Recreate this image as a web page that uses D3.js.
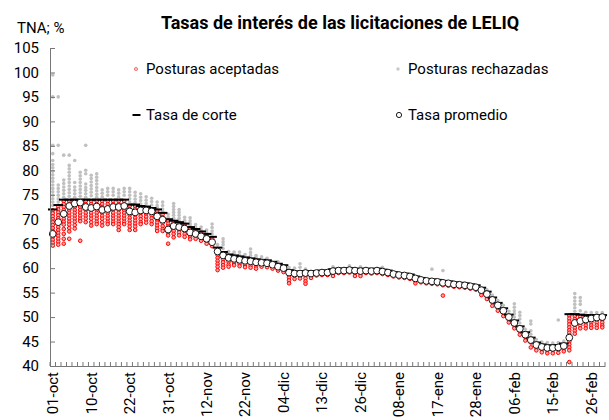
<!DOCTYPE html>
<html>
<head>
<meta charset="utf-8">
<script src="https://cdn.jsdelivr.net/npm/d3@7"></script>
<style>
  body { margin: 0; background: #fff; }
  text { font-family: Roboto, "Liberation Sans", sans-serif; fill: #000; }
</style>
</head>
<body>
<svg id="chart"></svg>
<script>
// auction dates (business days)
const dates = [
  '01-oct','02-oct','03-oct','04-oct','05-oct','08-oct','09-oct','10-oct','11-oct','12-oct',
  '16-oct','17-oct','18-oct','19-oct','22-oct','23-oct','24-oct','25-oct','26-oct','29-oct',
  '30-oct','31-oct','01-nov','02-nov','05-nov','07-nov','08-nov','09-nov','12-nov','13-nov',
  '14-nov','15-nov','16-nov','20-nov','21-nov','22-nov','23-nov','26-nov','27-nov','28-nov',
  '29-nov','03-dic','04-dic','05-dic','06-dic','07-dic','10-dic','11-dic','12-dic','13-dic',
  '14-dic','17-dic','18-dic','19-dic','20-dic','21-dic','26-dic','27-dic','28-dic','02-ene',
  '03-ene','04-ene','07-ene','08-ene','09-ene','10-ene','11-ene','14-ene','15-ene','16-ene',
  '17-ene','18-ene','21-ene','22-ene','23-ene','24-ene','25-ene','28-ene','29-ene','30-ene',
  '31-ene','01-feb','04-feb','05-feb','06-feb','07-feb','08-feb','11-feb','12-feb','13-feb',
  '14-feb','15-feb','18-feb','19-feb','20-feb','21-feb','22-feb','25-feb','26-feb','27-feb',
  '28-feb'
];

const tickDates = ['01-oct','10-oct','22-oct','31-oct','12-nov','22-nov','04-dic','13-dic',
  '26-dic','08-ene','17-ene','28-ene','06-feb','15-feb','26-feb'];

const yTicks = [40, 45, 50, 55, 60, 65, 70, 75, 80, 85, 90, 95, 100, 105];

// tasa promedio
const avgRate = [
  67.0, 69.4, 71.1, 72.7, 73.2, 73.4, 72.5, 72.3, 72.6, 71.9,
  72.1, 72.5, 72.5, 72.7, 71.6, 71.4, 71.8, 71.8, 71.6, 70.6,
  69.9, 67.9, 68.6, 68.4, 68.1, 67.3, 67.0, 66.5, 66.0, 65.3,
  63.4, 62.6, 62.1, 61.9, 61.7, 61.5, 61.4, 61.2, 61.1, 61.0,
  60.7, 60.3, 60.0, 59.1, 58.9, 58.9, 59.0, 58.9, 59.0, 59.1,
  59.1, 59.4, 59.5, 59.5, 59.6, 59.5, 59.4, 59.5, 59.4, 59.5,
  59.3, 59.1, 58.8, 58.6, 58.5, 58.3, 57.9, 57.6, 57.4, 57.3,
  57.2, 57.0, 56.9, 56.7, 56.6, 56.5, 56.3, 56.1, 55.5, 54.7,
  53.5, 52.4, 51.3, 50.0, 48.8, 47.6, 46.4, 45.3, 44.3, 43.9,
  43.7, 43.7, 43.8, 44.1, 45.8, 48.8, 49.2, 49.5, 49.7, 49.9,
  50.0
];

// tasa de corte
const cutRate = [
  72.0, 72.9, 74.0, 74.0, 74.0, 74.0, 74.0, 74.0, 74.0, 74.0,
  74.0, 74.0, 74.0, 74.0, 73.0, 73.0, 72.7, 72.6, 72.3, 72.0,
  71.3, 70.0, 69.7, 69.4, 69.1, 68.4, 68.0, 67.5, 67.0, 66.4,
  64.2, 63.3, 62.8, 62.6, 62.4, 62.2, 62.0, 61.8, 61.7, 61.6,
  61.3, 60.9, 60.6, 59.6, 59.3, 59.3, 59.4, 59.3, 59.4, 59.5,
  59.5, 59.8, 59.9, 59.9, 60.0, 59.9, 59.8, 59.9, 59.8, 59.9,
  59.7, 59.5, 59.2, 59.0, 58.9, 58.7, 58.3, 58.0, 57.8, 57.7,
  57.6, 57.4, 57.3, 57.1, 57.0, 56.9, 56.7, 56.5, 56.0, 55.2,
  54.0, 52.9, 51.8, 50.5, 49.3, 48.1, 46.9, 45.8, 44.8, 44.4,
  44.2, 44.2, 44.3, 44.6, 50.6, 50.6, 50.5, 50.4, 50.4, 50.4,
  50.4
];

// posturas aceptadas, one list per auction
const accepted = [
  [71.8, 71.2, 70.6, 70.0, 69.4, 68.8, 68.2, 67.6, 67.0, 66.4, 65.8, 65.2, 64.6],
  [72.6, 72.0, 71.4, 70.8, 70.2, 69.6, 69.0, 68.4, 67.8, 67.2, 66.6, 66.0, 65.4, 64.8],
  [73.7, 73.1, 72.5, 71.9, 71.3, 70.7, 70.1, 69.5, 68.9, 68.0, 67.0, 66.0, 65.0],
  [73.7, 73.1, 72.5, 71.9, 71.3, 70.7, 70.1, 69.5, 68.9, 68.2, 67.5, 66.0],
  [73.7, 73.1, 72.5, 71.9, 71.3, 70.7, 70.1, 69.5, 68.8, 68.1],
  [73.7, 73.1, 72.5, 71.9, 71.3, 70.7, 70.1, 69.6, 65.6],
  [73.7, 73.1, 72.5, 71.9, 71.3, 70.7, 70.1, 69.4],
  [73.7, 73.1, 72.5, 71.9, 71.3, 70.7, 70.1, 69.4, 68.7],
  [73.7, 73.1, 72.5, 71.9, 71.3, 70.7, 70.1, 69.5, 69.0],
  [73.7, 73.1, 72.5, 71.9, 71.3, 70.7, 70.1, 69.4, 68.7],
  [73.7, 73.1, 72.5, 71.9, 71.3, 70.7, 70.1, 69.5, 69.0],
  [73.7, 73.1, 72.5, 71.9, 71.3, 70.7, 70.1, 69.5, 69.0],
  [73.7, 73.1, 72.5, 71.9, 71.3, 70.7, 70.1, 69.5, 69.0, 68.4, 67.8],
  [73.7, 73.1, 72.5, 71.9, 71.3, 70.7, 70.1, 69.5, 69.0],
  [72.7, 72.1, 71.5, 70.9, 70.3, 69.7, 69.1, 68.5, 67.8],
  [72.7, 72.1, 71.5, 70.9, 70.3, 69.7, 69.1, 68.5, 67.8],
  [72.4, 71.8, 71.2, 70.6, 70.0, 69.4, 69.0],
  [72.3, 71.7, 71.1, 70.5, 69.9, 69.3],
  [72.0, 71.4, 70.8, 70.2, 69.6, 69.0],
  [71.7, 71.1, 70.5, 69.9, 69.3, 68.7, 68.1, 67.6],
  [71.0, 70.4, 69.8, 69.2, 68.6, 68.0, 67.6],
  [69.7, 69.1, 68.5, 67.9, 67.3, 66.7, 65.0],
  [69.4, 68.8, 68.2, 67.6, 67.0, 66.3],
  [69.1, 68.5, 67.9, 67.3, 66.7],
  [68.8, 68.2, 67.6, 67.0, 66.4],
  [68.1, 67.5, 66.9, 66.3, 65.9],
  [67.7, 67.1, 66.5, 66.0],
  [67.2, 66.6, 66.0, 65.6],
  [66.7, 66.1, 65.5, 65.0],
  [66.1, 65.5, 64.9, 64.5],
  [63.9, 63.3, 62.7, 62.1, 61.5, 60.9, 60.3, 59.6],
  [63.0, 62.4, 61.8, 61.2, 60.6, 60.1],
  [62.5, 61.9, 61.3, 60.7, 60.3],
  [62.3, 61.7, 61.1, 60.6],
  [62.1, 61.5, 60.9, 60.4],
  [61.9, 61.3, 60.7, 60.2],
  [61.7, 61.1, 60.5, 60.1],
  [61.5, 60.9, 60.4, 59.9],
  [61.4, 60.8, 60.3],
  [61.3, 60.7, 60.2],
  [61.0, 60.4, 59.9],
  [60.6, 60.0, 59.5],
  [60.3, 59.7, 59.2],
  [59.3, 58.7, 58.1, 57.5, 56.9],
  [59.0, 58.4, 57.8],
  [59.0, 58.4, 57.9],
  [59.1, 58.5, 57.9, 57.3, 56.8],
  [59.0, 58.4, 58.0],
  [59.1, 58.5],
  [59.2, 58.6],
  [59.2, 58.6],
  [59.5, 58.9, 58.4],
  [59.6, 59.0],
  [59.6, 59.0],
  [59.7, 59.1],
  [59.6, 59.0, 58.4],
  [59.5, 58.9, 58.4],
  [59.6, 59.0],
  [59.5, 58.9],
  [59.6, 59.0],
  [59.4, 58.8],
  [59.2, 58.6],
  [58.9, 58.3],
  [58.7, 58.1],
  [58.6, 58.0],
  [58.4, 57.8],
  [58.0, 57.4, 56.9],
  [57.7, 57.1],
  [57.5, 56.9],
  [57.4, 56.8],
  [57.3, 56.7],
  [57.1, 56.5, 54.4],
  [57.0, 56.4],
  [56.8, 56.2],
  [56.7, 56.1],
  [56.6, 56.0],
  [56.4, 55.8],
  [56.2, 55.6],
  [55.7, 55.0, 54.5],
  [54.9, 54.2, 53.7],
  [53.7, 53.0, 52.3],
  [52.6, 51.9, 51.3],
  [51.5, 50.8, 50.2],
  [50.2, 49.5, 48.9],
  [49.0, 48.3, 47.7],
  [47.8, 47.1, 46.4],
  [46.6, 45.9, 45.2],
  [45.5, 44.8, 43.8],
  [44.5, 43.8, 43.2],
  [44.1, 43.4, 42.8],
  [43.9, 43.2, 42.6],
  [43.9, 43.2, 42.6],
  [44.0, 43.3, 42.7],
  [44.3, 43.6, 43.0],
  [50.3, 49.7, 49.1, 48.5, 47.9, 47.3, 46.8, 46.2, 45.6, 45.0, 44.4, 43.8, 43.2, 40.8],
  [50.2, 49.6, 49.0, 48.4, 47.8, 47.2, 46.6],
  [50.1, 49.5, 48.9, 48.3, 47.7],
  [50.1, 49.5, 48.9, 48.3, 47.7],
  [50.1, 49.5, 48.9, 48.3, 47.8],
  [50.1, 49.5, 48.9, 48.3, 47.8],
  [50.1, 49.5, 48.9, 48.3, 47.9]
];

// posturas rechazadas, one list per auction
const rejected = [
  [99.5, 95.0, 85.1, 83.4, 82.0, 81.2, 80.5, 79.8, 79.1, 78.4, 77.7, 77.0, 76.3, 75.6, 74.9, 74.2, 73.5, 72.8],
  [95.0, 85.1, 77.0, 76.3, 75.6, 74.9, 74.2, 73.5],
  [83.1, 78.0, 77.3, 76.6, 75.9, 75.2, 74.5],
  [83.1, 81.0, 80.3, 79.6, 78.9, 78.2, 77.5, 76.8, 76.1, 75.4, 74.7],
  [82.0, 77.5, 76.6, 75.9, 75.2, 74.5],
  [79.6, 78.9, 78.2, 77.5, 76.8, 76.1, 75.4, 74.7],
  [85.1, 80.0, 79.3, 77.2, 76.5, 75.9, 75.2, 74.5],
  [79.0, 78.3, 77.6, 76.9, 76.2, 75.5, 74.8],
  [79.3, 78.6, 77.9, 77.2, 76.5, 75.8, 75.1, 74.5],
  [76.0, 75.3, 74.6],
  [76.3, 75.6, 74.9],
  [76.3, 75.6, 74.9],
  [76.0, 75.3, 74.6],
  [76.3, 75.6, 74.9],
  [76.3, 75.6, 74.9, 74.2, 73.5],
  [75.5, 74.8, 74.1, 73.4],
  [75.2, 74.5, 73.8, 73.1],
  [74.6, 73.9, 73.2],
  [74.3, 73.6, 72.9],
  [73.5, 72.8, 72.4],
  [73.5, 72.8, 72.1, 71.6],
  [71.0, 70.4],
  [73.2, 72.6, 72.0, 71.4, 70.8, 70.2],
  [72.0, 71.4, 70.8, 70.2, 69.7],
  [70.4, 69.8, 69.4],
  [70.3, 69.7, 69.1, 68.7],
  [68.9, 68.4],
  [68.4, 67.8],
  [67.8, 67.3],
  [69.0, 68.3, 67.6, 67.0],
  [64.8],
  [66.0, 65.4, 64.8, 64.0],
  [63.4],
  [63.3, 62.9],
  [63.3, 62.7],
  [62.8],
  [63.9, 63.2, 62.6],
  [62.6, 62.2],
  [62.3],
  [62.0],
  [],
  [61.3],
  [],
  [60.1],
  [60.0],
  [60.9, 60.2],
  [59.8],
  [], [], [], [],
  [60.3],
  [], [],
  [60.5],
  [],
  [60.3],
  [], [], [],
  [60.2],
  [], [], [], [], [], [], [], [],
  [59.8],
  [],
  [59.5],
  [], [], [], [], [], [], [],
  [55.6],
  [54.5],
  [53.4],
  [52.4],
  [51.2],
  [52.7, 52.0, 51.3, 50.7, 50.0],
  [51.0, 50.3, 49.6, 48.8],
  [47.5],
  [49.2, 48.6, 47.2, 46.5],
  [45.4],
  [44.9],
  [44.8],
  [44.7],
  [49.4, 44.8],
  [45.1],
  [],
  [54.8, 54.0, 53.3, 52.6, 51.9, 51.2],
  [54.0, 53.3, 52.6, 51.3],
  [51.0],
  [50.9],
  [50.9],
  [50.9]
];

const legendItems = [
  { label: 'Posturas aceptadas', kind: 'accepted' },
  { label: 'Posturas rechazadas', kind: 'rejected' },
  { label: 'Tasa de corte', kind: 'cut' },
  { label: 'Tasa promedio', kind: 'avg' }
];

const width = 609;
const height = 420;
const margin = { top: 48, right: 4, bottom: 54, left: 50 };

const svg = d3.select('#chart')
  .attr('width', width)
  .attr('height', height);

const x = d3.scaleBand()
  .domain(dates)
  .range([margin.left, width - margin.right])
  .padding(0);

const y = d3.scaleLinear()
  .domain([40, 105])
  .range([height - margin.bottom, margin.top]);

const cx = d => x(d) + x.bandwidth() / 2;

// points
const rejPts = rejected.flatMap((vals, i) => vals.map(v => ({ date: dates[i], v })));
const accPts = accepted.flatMap((vals, i) => vals.map(v => ({ date: dates[i], v })));

svg.append('g')
  .selectAll('circle')
  .data(rejPts)
  .join('circle')
  .attr('cx', d => cx(d.date))
  .attr('cy', d => y(d.v))
  .attr('r', 1.8)
  .attr('fill', '#c0c0c0');

svg.append('g')
  .selectAll('circle')
  .data(accPts)
  .join('circle')
  .attr('cx', d => cx(d.date))
  .attr('cy', d => y(d.v))
  .attr('r', 1.8)
  .attr('fill', '#ffa8a8')
  .attr('stroke', '#ff0000')
  .attr('stroke-width', 1);

// cut rate dashes
svg.append('g')
  .selectAll('line')
  .data(dates)
  .join('line')
  .attr('x1', d => cx(d) - 4.8)
  .attr('x2', d => cx(d) + 4.8)
  .attr('y1', (d, i) => y(cutRate[i]))
  .attr('y2', (d, i) => y(cutRate[i]))
  .attr('stroke', '#000')
  .attr('stroke-width', 2);

// average rate
svg.append('g')
  .selectAll('circle')
  .data(dates)
  .join('circle')
  .attr('cx', d => cx(d))
  .attr('cy', (d, i) => y(avgRate[i]))
  .attr('r', 3.4)
  .attr('fill', '#fff')
  .attr('stroke', '#000')
  .attr('stroke-width', 0.9);

// y axis
const yAxis = svg.append('g')
  .attr('transform', `translate(${margin.left},0)`)
  .call(d3.axisLeft(y).tickValues(yTicks).tickSize(-5).tickPadding(11));
yAxis.select('.domain').attr('stroke', '#777');
yAxis.selectAll('.tick line').attr('stroke', '#777');
yAxis.selectAll('text')
  .style('font-size', '15px')
  .style('font-family', 'Roboto, sans-serif')
  .attr('fill', '#000');

// x axis
const xAxis = svg.append('g')
  .attr('transform', `translate(0,${height - margin.bottom})`)
  .call(d3.axisBottom(x).tickValues(tickDates).tickSize(0));
xAxis.select('.domain').attr('stroke', '#777');
xAxis.selectAll('text')
  .attr('transform', 'rotate(-90)')
  .attr('x', -6)
  .attr('y', 0)
  .attr('dy', '0.36em')
  .style('text-anchor', 'end')
  .style('font-size', '15px')
  .style('font-family', 'Roboto, sans-serif')
  .attr('fill', '#000');

// category boundary ticks
xAxis.append('g')
  .selectAll('line')
  .data(d3.range(dates.length + 1))
  .join('line')
  .attr('x1', i => i < dates.length ? x(dates[i]) : x.range()[1])
  .attr('x2', i => i < dates.length ? x(dates[i]) : x.range()[1])
  .attr('y1', 0)
  .attr('y2', -4)
  .attr('stroke', '#777');

// titles
svg.append('text')
  .attr('x', 340)
  .attr('y', 29)
  .attr('text-anchor', 'middle')
  .style('font-size', '18px')
  .style('font-weight', 'bold')
  .text('Tasas de interés de las licitaciones de LELIQ');

svg.append('text')
  .attr('x', 17)
  .attr('y', 33)
  .style('font-size', '15px')
  .text('TNA; %');

// legend
const legend = svg.append('g')
  .selectAll('g')
  .data(legendItems)
  .join('g')
  .attr('transform', (d, i) => `translate(${i % 2 ? 398 : 136},${i < 2 ? 69 : 115})`);

legend.each(function (d) {
  const g = d3.select(this);
  if (d.kind === 'accepted') {
    g.append('circle').attr('r', 1.6).attr('fill', '#ffc4c4')
      .attr('stroke', '#f06060').attr('stroke-width', 0.8);
  } else if (d.kind === 'rejected') {
    g.append('circle').attr('r', 1.7).attr('fill', '#c8c8c8');
  } else if (d.kind === 'cut') {
    g.append('line').attr('x1', -3.5).attr('x2', 4.5)
      .attr('stroke', '#000').attr('stroke-width', 2);
  } else {
    g.append('circle').attr('cx', 1).attr('r', 2.6).attr('fill', '#fff')
      .attr('stroke', '#000').attr('stroke-width', 0.9);
  }
  g.append('text')
    .attr('x', 10)
    .attr('dy', '0.35em')
    .style('font-size', '15px')
    .text(d.label);
});
</script>
</body>
</html>
